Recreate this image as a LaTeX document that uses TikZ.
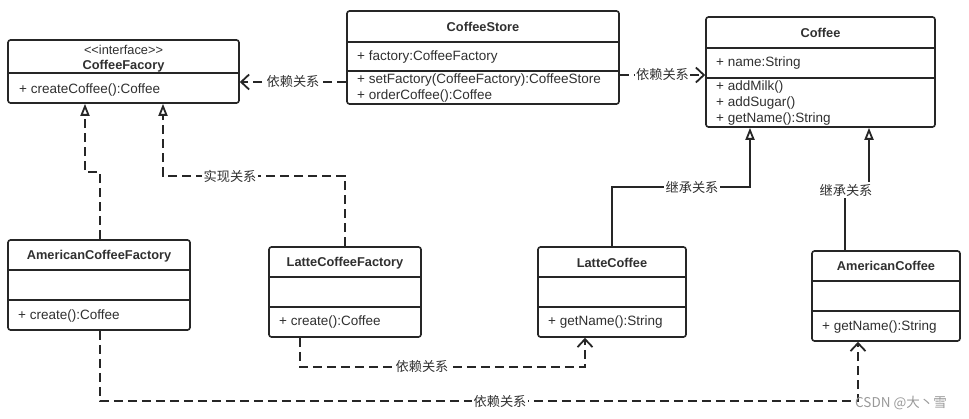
\documentclass[tikz,border=0pt]{standalone}
\usepackage{fontspec}
\setmainfont[Ligatures=NoCommon]{Liberation Sans}
\newfontfamily\cjk{Noto Sans CJK SC}
\usetikzlibrary{arrows.meta}
\definecolor{lc}{HTML}{262626}
\definecolor{tc}{HTML}{303030}
\tikzset{
  cls/.style={draw=lc, line width=1.6pt, rounded corners=2.5pt, inner sep=0pt, fill=white},
  divl/.style={draw=lc, line width=1.6pt},
  mtxt/.style={anchor=west, text=tc, inner sep=0pt, font=\fontsize{13.5}{16}\selectfont},
  ttxt/.style={anchor=center, text=tc, inner sep=0pt, font=\fontsize{12.8}{15}\selectfont\bfseries},
  lbl/.style={fill=white, text=tc, inner sep=1.5pt, font=\cjk\fontsize{13.2}{15}\selectfont},
  dep/.style={draw=lc, line width=1.8pt, dash pattern=on 9pt off 5pt, -{Straight Barb[length=8pt,width=15pt,line width=1.8pt]}},
  real/.style={draw=lc, line width=1.8pt, dash pattern=on 9pt off 5pt, -{Triangle[open,length=12pt,width=9pt,line width=1.8pt]}},
  inh/.style={draw=lc, line width=1.8pt, -{Triangle[open,length=12pt,width=9pt,line width=1.8pt]}},
}
\begin{document}
\begin{tikzpicture}[x=1pt,y=-1pt]
\useasboundingbox (0,0) rectangle (969,419);
% CoffeeFacory
\node[cls, minimum width=231pt, minimum height=63pt] (cf) at (123.5,71.5) {};
\draw[divl] (cf.west |- 0,73) -- (cf.east |- 0,73);
\node[ttxt, font=\fontsize{12.8}{15}\selectfont] (cft1) at (123.5,50) {{<}{<}interface{>}{>}};
\node[ttxt] (cft2) at (123.5,66) {CoffeeFacory};
\node[mtxt] (cfm) at (19,90) {+ createCoffee():Coffee};
% CoffeeStore
\node[cls, minimum width=272pt, minimum height=93pt] (cs) at (483,57.5) {};
\draw[divl] (cs.west |- 0,42) -- (cs.east |- 0,42);
\draw[divl] (cs.west |- 0,71) -- (cs.east |- 0,71);
\node[ttxt] (cst) at (483,27) {CoffeeStore};
\node[mtxt] (csa) at (357,57) {+ factory:CoffeeFactory};
\node[mtxt] (csm1) at (357,80) {+ setFactory(CoffeeFactory):CoffeeStore};
\node[mtxt] (csm2) at (357,96) {+ orderCoffee():Coffee};
% Coffee
\node[cls, minimum width=229pt, minimum height=110pt] (co) at (820.5,72) {};
\draw[divl] (co.west |- 0,48) -- (co.east |- 0,48);
\draw[divl] (co.west |- 0,78) -- (co.east |- 0,78);
\node[ttxt] (cot) at (820.5,33) {Coffee};
\node[mtxt] (coa) at (716,63) {+ name:String};
\node[mtxt] (com1) at (716,87) {+ addMilk()};
\node[mtxt] (com2) at (716,103) {+ addSugar()};
\node[mtxt] (com3) at (716,119) {+ getName():String};
% AmericanCoffeeFactory
\node[cls, minimum width=182pt, minimum height=90pt] (acf) at (99,285) {};
\draw[divl] (acf.west |- 0,270) -- (acf.east |- 0,270);
\draw[divl] (acf.west |- 0,300) -- (acf.east |- 0,300);
\node[ttxt] (acft) at (99,256) {AmericanCoffeeFactory};
\node[mtxt] (acfm) at (18,316) {+ create():Coffee};
% LatteCoffeeFactory
\node[cls, minimum width=152pt, minimum height=90pt] (lcf) at (345,292) {};
\draw[divl] (lcf.west |- 0,277) -- (lcf.east |- 0,277);
\draw[divl] (lcf.west |- 0,307) -- (lcf.east |- 0,307);
\node[ttxt] (lcft) at (345,263) {LatteCoffeeFactory};
\node[mtxt] (lcfm) at (279,322) {+ create():Coffee};
% LatteCoffee
\node[cls, minimum width=148pt, minimum height=90pt] (lc) at (612,292) {};
\draw[divl] (lc.west |- 0,277) -- (lc.east |- 0,277);
\draw[divl] (lc.west |- 0,307) -- (lc.east |- 0,307);
\node[ttxt] (lct) at (612,263) {LatteCoffee};
\node[mtxt] (lcm) at (548,322) {+ getName():String};
% AmericanCoffee
\node[cls, minimum width=148pt, minimum height=90pt] (ac) at (886,296) {};
\draw[divl] (ac.west |- 0,281) -- (ac.east |- 0,281);
\draw[divl] (ac.west |- 0,311) -- (ac.east |- 0,311);
\node[ttxt] (act) at (886,266) {AmericanCoffee};
\node[mtxt] (acm) at (822,327) {+ getName():String};
% connectors
\draw[dep] (cs.west |- 0,82) -- node[lbl] (l1) {依赖关系} (cf.east |- 0,82);
\draw[dep] (cs.east |- 0,75) -- node[lbl] (l2) {依赖关系} (co.west |- 0,75);
\coordinate (r1a) at (100,172);
\coordinate (r1b) at (85,172);
\draw[real] (acf.north -| 100,0) -- (r1a) -- (r1b) -- (cf.south -| r1b);
\coordinate (r2a) at (345,176);
\coordinate (r2b) at (163,176);
\draw[real] (lcf.north) -- (r2a) -- (r2b) -- (cf.south -| r2b);
\node[lbl] (l3) at (230,176) {实现关系};
\coordinate (i1a) at (612,187);
\coordinate (i1b) at (750,187);
\draw[inh] (lc.north) -- (i1a) -- (i1b) -- (co.south -| i1b);
\node[lbl] (l4) at (692,187) {继承关系};
\coordinate (i2a) at (845,190);
\coordinate (i2b) at (869,190);
\draw[inh] (ac.north -| i2a) -- (i2a) -- (i2b) -- (co.south -| i2b);
\node[lbl] (l5) at (846,190) {继承关系};
\coordinate (d1a) at (300,367);
\coordinate (d1b) at (585,367);
\draw[dep] (lcf.south -| d1a) -- (d1a) -- (d1b) -- (lc.south -| d1b);
\node[lbl] (l6) at (422,367) {依赖关系};
\coordinate (d2a) at (100,401);
\coordinate (d2b) at (858,401);
\draw[dep] (acf.south -| d2a) -- (d2a) -- (d2b) -- (ac.south -| d2b);
\node[lbl] (l7) at (500,402) {依赖关系};
\node[anchor=west, inner sep=0pt, text=black!40, font=\cjk\fontsize{13.5}{15}\selectfont] (wm) at (855,403) {CSDN @大丶雪};
\end{tikzpicture}
\end{document}
